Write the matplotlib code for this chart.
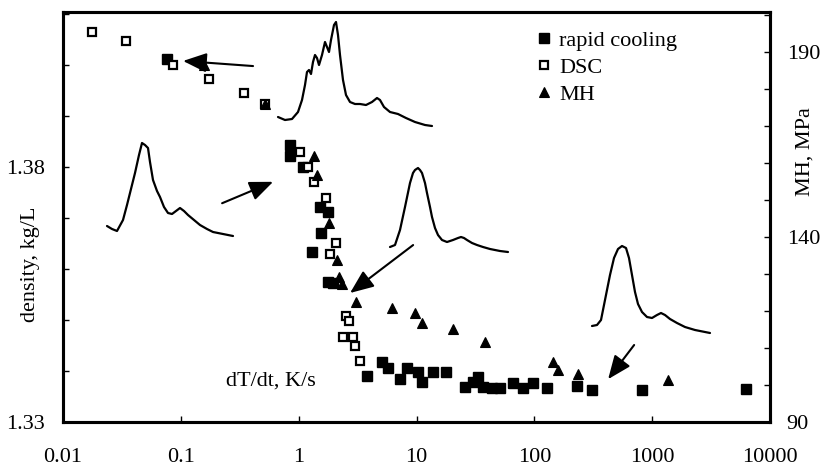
import matplotlib
matplotlib.use("Agg")
import matplotlib.pyplot as plt
import matplotlib.ticker as mticker

# ---- data ----
# rapid cooling: cooling rate (K/s) vs density (kg/L)
rc_rate = [0.0764, 0.845, 0.845, 1.09, 1.52, 1.78, 1.55, 1.30, 1.78, 1.96,
           3.81, 5.11, 5.74, 7.26, 8.32, 10.3, 11.2, 13.8, 17.8, 25.9,
           30.2, 33.3, 36.8, 43.8, 51.3, 66.1, 80.3, 97.7, 128, 231,
           310, 823, 6281]
rc_density = [1.4012, 1.3843, 1.3822, 1.3800, 1.3722, 1.3712, 1.3671, 1.3633, 1.3575, 1.3573,
              1.3390, 1.3418, 1.3406, 1.3384, 1.3406, 1.3398, 1.3378, 1.3398, 1.3398, 1.3369,
              1.3378, 1.3388, 1.3369, 1.3367, 1.3367, 1.3376, 1.3367, 1.3376, 1.3367, 1.3371,
              1.3363, 1.3363, 1.3365]

# DSC
dsc_rate = [0.0176, 0.0343, 0.0859, 0.174, 0.344, 0.519, 1.03, 1.20, 1.35, 1.71,
            2.08, 1.85, 2.53, 2.68, 2.38, 2.90, 3.01, 3.32]
dsc_density = [1.4065, 1.4047, 1.4000, 1.3973, 1.3945, 1.3924, 1.3829, 1.3800, 1.3771, 1.3739,
               1.3651, 1.3629, 1.3508, 1.3498, 1.3467, 1.3467, 1.3449, 1.3420]

# microhardness (right axis, MPa)
mh_rate = [0.157, 0.519, 1.35, 1.43, 1.81, 2.12, 2.20, 2.34, 3.07, 6.21,
           9.73, 11.2, 20.5, 38.2, 144, 159, 235, 1367]
mh_value = [186.5, 175.9, 161.9, 156.8, 143.8, 133.8, 129.2, 127.3, 122.4, 120.8,
            119.5, 116.8, 115.1, 111.6, 106.2, 104.1, 103.0, 101.4]

x_ticks = [0.01, 0.1, 1, 10, 100, 1000, 10000]
x_tick_labels = ["0.01", "0.1", "1", "10", "100", "1000", "10000"]
dens_ticks = [1.33, 1.38]
mh_ticks = [90, 140, 190]

# arrows: (tail rate, tail density) -> (head rate, head density)
arrow_tails = [(0.410, 1.3998), (0.224, 1.3729), (9.36, 1.3647), (703, 1.3451)]
arrow_heads = [(0.1044, 1.4008), (0.607, 1.3771), (2.73, 1.3553), (423, 1.3384)]

# inset scattering profiles (arbitrary units)
prof1_u = [0, 7, 14, 20, 24, 27, 29, 31, 33, 35, 37, 39, 41, 44, 47, 49, 51, 53, 56, 58,
           60, 62, 65, 68, 72, 77, 82, 88, 94, 99, 102, 106, 112, 120, 128, 137, 147, 154]
prof1_v = [11, 8, 9, 16, 28, 43, 56, 58, 54, 66, 73, 70, 63, 73, 86, 81, 76, 88, 103, 106,
           93, 73, 48, 33, 26, 24, 24, 23, 26, 30, 28, 21, 16, 14, 10, 6, 3, 2]
prof2_u = [0, 5, 10, 16, 20, 23, 28, 32, 35, 38, 41, 43, 46, 50, 53, 57, 61, 65, 69, 73,
           77, 81, 87, 93, 100, 106, 116, 126]
prof2_v = [10, 7, 5, 16, 31, 43, 63, 81, 93, 91, 88, 74, 56, 45, 39, 29, 23, 22, 25, 28,
           25, 21, 16, 11, 7, 4, 2, 0]
prof3_u = [0, 5, 10, 15, 20, 23, 25, 28, 30, 32, 35, 37, 40, 42, 45, 48, 52, 57, 63, 68,
           71, 74, 77, 82, 87, 93, 100, 110, 118]
prof3_v = [5, 7, 22, 45, 69, 79, 82, 84, 82, 79, 69, 59, 45, 35, 24, 17, 12, 10, 12, 14,
           15, 14, 12, 9, 7, 5, 3, 1, 0]
prof4_u = [0, 5, 9, 12, 15, 18, 22, 26, 30, 34, 37, 40, 43, 46, 50, 55, 60, 65, 69, 73,
           78, 85, 93, 103, 118]
prof4_v = [7, 8, 13, 28, 43, 58, 75, 84, 87, 85, 75, 58, 41, 29, 21, 16, 15, 18, 20, 18,
           14, 10, 6, 3, 0]

plt.rcParams['font.family'] = ['Liberation Serif', 'DejaVu Serif']
FS = 16

W, H = 827, 467
fig = plt.figure(figsize=(W / 100, H / 100), dpi=100)
ax = fig.add_axes([63 / W, 1 - 422 / H, (770 - 63) / W, (422 - 12) / H])
ax2 = ax.twinx()

ax.plot(rc_rate, rc_density, 's', ms=6.5, mfc='k', mec='k', mew=1, ls='none',
        label='rapid cooling', zorder=3)
ax.plot(dsc_rate, dsc_density, 's', ms=6.2, mfc='white', mec='k', mew=1.6, ls='none',
        label='DSC', zorder=4)
ax2.plot(mh_rate, mh_value, '^', ms=7.5, mfc='k', mec='k', mew=0.8, ls='none',
         label='MH', zorder=5)

ax.set_xscale('log')
ax.set_xlim(0.01, 10000)
ax.set_ylim(1.33, 1.4104)
ax2.set_ylim(90, 200.8)

ax.xaxis.set_major_locator(mticker.FixedLocator(x_ticks))
ax.xaxis.set_major_formatter(mticker.FixedFormatter(x_tick_labels))
ax.xaxis.set_minor_locator(mticker.NullLocator())
ax.yaxis.set_major_locator(mticker.FixedLocator(dens_ticks))
ax.yaxis.set_major_formatter(mticker.FormatStrFormatter('%.2f'))
ax.yaxis.set_minor_locator(mticker.MultipleLocator(0.01))
ax2.yaxis.set_major_locator(mticker.FixedLocator(mh_ticks))
ax2.yaxis.set_minor_locator(mticker.MultipleLocator(10))

ax.tick_params(axis='x', direction='in', length=4.5, width=1, labelsize=FS, pad=19)
ax.tick_params(axis='y', which='both', direction='in', length=4.5, width=1,
               labelsize=FS, pad=13)
ax2.tick_params(axis='y', which='both', direction='in', length=4.5, width=1,
                labelsize=FS, pad=12)
for a in (ax, ax2):
    for sp in a.spines.values():
        sp.set_linewidth(2.2)

# axis titles
fig.text(30 / W, 1 - 264 / H, 'density, kg/L', rotation=90, ha='center', va='center',
         fontsize=FS, rotation_mode='anchor')
fig.text(805 / W, 1 - 152 / H, 'MH, MPa', rotation=90, ha='center', va='center',
         fontsize=FS, rotation_mode='anchor')
fig.text(271 / W, 1 - 381 / H, 'dT/dt, K/s', ha='center', va='center', fontsize=FS)

# legend
ax2.legend(loc='upper left', bbox_to_anchor=(535 / W, 1 - 30 / H),
           bbox_transform=fig.transFigure, frameon=False, fontsize=FS,
           handlelength=0.8, handletextpad=0.3, borderpad=0, borderaxespad=0,
           labelspacing=0.3, handles=ax.get_lines() + ax2.get_lines())

# arrows
for tail, head in zip(arrow_tails, arrow_heads):
    ax2.annotate('', xy=ax2.transData.inverted().transform(ax.transData.transform(head)),
                 xytext=ax2.transData.inverted().transform(ax.transData.transform(tail)),
                 arrowprops=dict(arrowstyle='-|>,head_length=0.8,head_width=0.33',
                                 color='k', lw=1.5, mutation_scale=18,
                                 shrinkA=0, shrinkB=0))


# inset profiles
def draw_profile(left, top, u, v):
    w = max(u) - min(u)
    h = max(v) - min(v)
    a = fig.add_axes([left / W, 1 - (top + h) / H, w / W, h / H])
    a.plot(u, v, color='k', lw=1.6, clip_on=False, solid_capstyle='round')
    a.set_xlim(min(u), max(u))
    a.set_ylim(min(v), max(v))
    a.axis('off')


draw_profile(278, 128 - max(prof1_v), prof1_u, prof1_v)
draw_profile(107, 236 - max(prof2_v), prof2_u, prof2_v)
draw_profile(390, 252 - max(prof3_v), prof3_u, prof3_v)
draw_profile(592, 333 - max(prof4_v), prof4_u, prof4_v)

fig.savefig('out.png', dpi=100)
